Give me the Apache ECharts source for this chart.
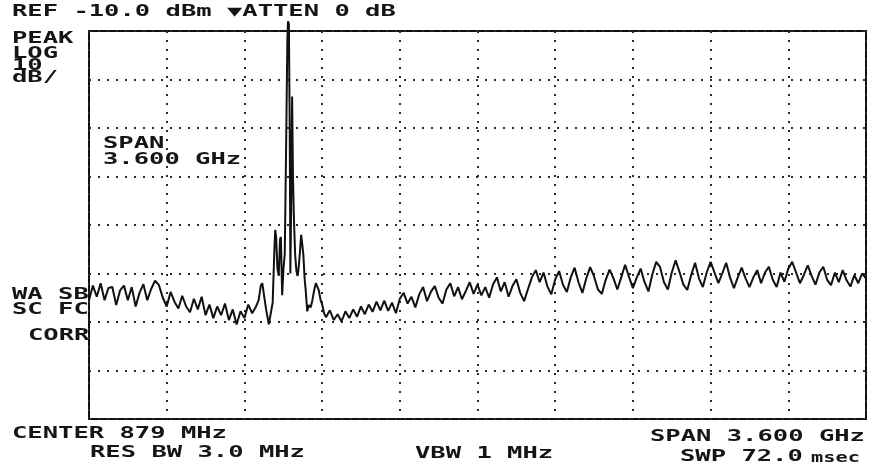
<!DOCTYPE html>
<html>
<head>
<meta charset="utf-8">
<script src="https://cdn.jsdelivr.net/npm/echarts@6/dist/echarts.min.js"></script>
<style>
  html, body { margin: 0; padding: 0; background: #ffffff; }
  #chart { width: 886px; height: 470px; }
</style>
</head>
<body>
<div id="chart"></div>
<script>
// ---- instrument settings ----
const CENTER_MHZ = 879;
const SPAN_MHZ = 3600;
const REF_DBM = -10;
const DB_PER_DIV = 10;
const X_DIVS = 10;
const Y_DIVS = 8;

// ---- trace: below the carrier (uniform sweep samples) ----
const lowBandMHz = [-921,-903,-885,-867,-849,-831,-813,-795,-777,-759,-741,-723,-705,-687,-669,-651,-633,-615,-597,-579,-561,-543,-525,-507,-489,-471,-453,-435,-417,-399,-381,-363,-345,-327,-309,-291,-273,-255,-237,-219,-201,-183,-165,-147];
const lowBandDbm = [-65.5,-62.5,-64.8,-62.0,-65.5,-63.0,-62.8,-66.5,-63.5,-62.5,-65.5,-62.8,-66.8,-64.0,-62.2,-65.5,-63.2,-61.5,-62.4,-65.0,-66.8,-63.8,-65.8,-67.2,-64.6,-66.8,-68.0,-65.2,-67.4,-64.8,-68.6,-66.4,-69.2,-66.8,-68.6,-66.2,-69.6,-67.4,-70.5,-67.8,-69.2,-66.4,-68.2,-66.8];

// ---- trace: carrier and side lobes (finer reading) ----
const carrierMHz = [-135,-125,-118,-110,-100,-88,-78,-70,-62,-58,-54,-48,-42,-36,-32,-26,-20,-14,-8,-2,1,5,9,12,16,20,24,28,34,40,46,52,58,62,67,72,78,84,90,98,106,114,122,130,137,144,152,160,168];
const carrierDbm = [-65.5,-62.5,-62.0,-64.5,-67.5,-70.5,-68.0,-66.0,-55.0,-51.0,-52.5,-59.0,-60.5,-53.0,-52.5,-64.5,-59.0,-56.0,-35.0,-12.0,-8.0,-8.5,-30.0,-60.0,-45.0,-23.5,-40.0,-48.0,-56.0,-59.5,-60.5,-58.0,-54.5,-52.0,-51.8,-56.0,-61.0,-64.0,-67.8,-66.5,-67.0,-65.5,-63.5,-62.0,-61.8,-63.5,-65.5,-66.5,-68.2];

// ---- trace: above the carrier (uniform sweep samples) ----
const highBandMHz = [177,195,213,231,249,267,285,303,321,339,
357,375,393,411,429,447,465,483,501,519,
537,555,573,591,609,627,645,663,681,699,
717,735,753,771,789,807,825,843,861,879,
897,915,933,951,969,987,1005,1023,1041,1059,
1077,1095,1113,1131,1149,1167,1185,1203,1221,1239,
1257,1275,1293,1311,1329,1347,1365,1383,1401,1419,
1437,1455,1473,1491,1509,1527,1545,1563,1581,1599,
1617,1635,1653,1671,1689,1707,1725,1743,1761,1779,
1797,1815,1833,1851,1869,1887,1905,1923,1941,1959,
1977,1995,2013,2031,2049,2067,2085,2103,2121,2139,
2157,2175,2193,2211,2229,2247,2265,2283,2301,2319,
2337,2355,2373,2391,2409,2427,2445,2463,2481,2499,
2517,2535,2553,2571,2589,2607,2625,2643,2661,2679];
const highBandDbm = [-69.0,-67.6,-69.6,-68.4,-69.9,-67.8,-69.2,-67.4,-68.9,-66.8,
-68.4,-66.4,-67.9,-65.8,-67.6,-65.6,-67.7,-66.0,-68.2,-65.2,
-64.0,-66.2,-64.8,-67.0,-64.3,-62.8,-65.7,-63.8,-62.6,-65.0,
-66.2,-63.3,-62.0,-64.7,-62.8,-65.3,-63.6,-61.8,-64.2,-62.3,
-64.5,-62.8,-65.0,-62.2,-60.8,-63.7,-61.8,-64.8,-62.6,-61.2,
-64.0,-65.7,-63.2,-60.8,-59.3,-61.8,-59.8,-62.7,-64.3,-61.2,
-59.5,-62.3,-63.8,-60.8,-58.8,-61.8,-64.0,-61.0,-58.7,-60.6,
-63.3,-64.2,-61.3,-59.2,-61.0,-63.3,-60.8,-58.2,-60.7,-63.0,
-60.8,-59.0,-61.8,-63.7,-60.2,-57.6,-58.7,-61.8,-63.3,-59.8,
-57.3,-59.7,-62.3,-63.4,-60.3,-57.8,-61.0,-62.8,-59.8,-57.6,
-59.8,-62.0,-60.0,-57.8,-60.8,-63.0,-60.8,-58.8,-61.0,-62.8,
-60.8,-59.3,-62.0,-59.8,-58.6,-61.3,-62.8,-59.8,-61.7,-59.0,
-57.6,-59.8,-62.0,-60.3,-58.3,-60.5,-62.3,-59.8,-58.6,-61.3,
-62.4,-59.8,-61.8,-59.3,-61.4,-62.7,-60.3,-62.0,-60.0,-61.0];

// ---- annotation text ----
const headerText = 'REF -10.0 dBm \u25BCATTEN 0 dB';
const modeLabels = ['PEAK', 'LOG', '10', 'dB/'];
const spanInsideLabels = ['SPAN', '3.600 GHz'];
const corrLabels = ['WA SB', 'SC FC', 'CORR'];
const footerLabels = ['CENTER 879 MHz', 'RES BW 3.0 MHz', 'VBW 1 MHz', 'SPAN 3.600 GHz', 'SWP 72.0', 'msec'];

// ---- build series data ----
const startMHz = CENTER_MHZ - SPAN_MHZ / 2;
const allMHz = lowBandMHz.concat(carrierMHz, highBandMHz);
const allDbm = lowBandDbm.concat(carrierDbm, highBandDbm);
const traceData = allMHz.map((f, i) => [f - startMHz, allDbm[i]]);

const FONT = 'bold 15px "DejaVu Sans Mono"';
const SX = 1.7;
function label(text, x, y, opts) {
  opts = opts || {};
  return {
    type: 'text', x: x, y: y, scaleX: opts.sx || SX, scaleY: 1, z: 100,
    style: {
      text: text, font: opts.font || FONT, fill: '#151515',
      verticalAlign: 'middle', textVerticalAlign: 'middle'
    }
  };
}

const graphics = [
  label(headerText, 12, 12),
  label(modeLabels[0], 12, 39),
  label(modeLabels[1], 12, 54),
  label(modeLabels[2], 12, 66),
  label(modeLabels[3], 12, 78),
  label(spanInsideLabels[0], 103, 144),
  label(spanInsideLabels[1], 103, 160),
  label(corrLabels[0], 12, 295),
  label(corrLabels[1], 12, 310),
  label(corrLabels[2], 28, 336),
  label(footerLabels[0], 12, 434),
  label(footerLabels[1], 90, 453),
  label(footerLabels[2], 415, 454),
  label(footerLabels[3], 650, 437),
  label(footerLabels[4], 680, 457),
  label(footerLabels[5], 811, 458, { sx: 1.45, font: 'bold 14px "DejaVu Sans Mono"' })
];

const dotted = { type: [2, 7], color: '#2a2a2a', width: 2 };

const chart = echarts.init(document.getElementById('chart'), null, { renderer: 'canvas' });
chart.setOption({
  animation: false,
  backgroundColor: '#ffffff',
  grid: {
    left: 89, top: 31, width: 777, height: 388,
    show: true, borderColor: '#111', borderWidth: 2, backgroundColor: 'transparent'
  },
  xAxis: {
    type: 'value', min: 0, max: SPAN_MHZ, interval: SPAN_MHZ / X_DIVS,
    axisLine: { show: false }, axisTick: { show: false }, axisLabel: { show: false },
    splitLine: { show: true, lineStyle: dotted }
  },
  yAxis: {
    type: 'value', min: REF_DBM - DB_PER_DIV * Y_DIVS, max: REF_DBM, interval: DB_PER_DIV,
    axisLine: { show: false }, axisTick: { show: false }, axisLabel: { show: false },
    splitLine: { show: true, lineStyle: dotted }
  },
  series: [{
    type: 'line',
    data: traceData,
    showSymbol: false,
    clip: false,
    lineStyle: { color: '#111', width: 2 },
    z: 10
  }],
  graphic: graphics
});
</script>
</body>
</html>
